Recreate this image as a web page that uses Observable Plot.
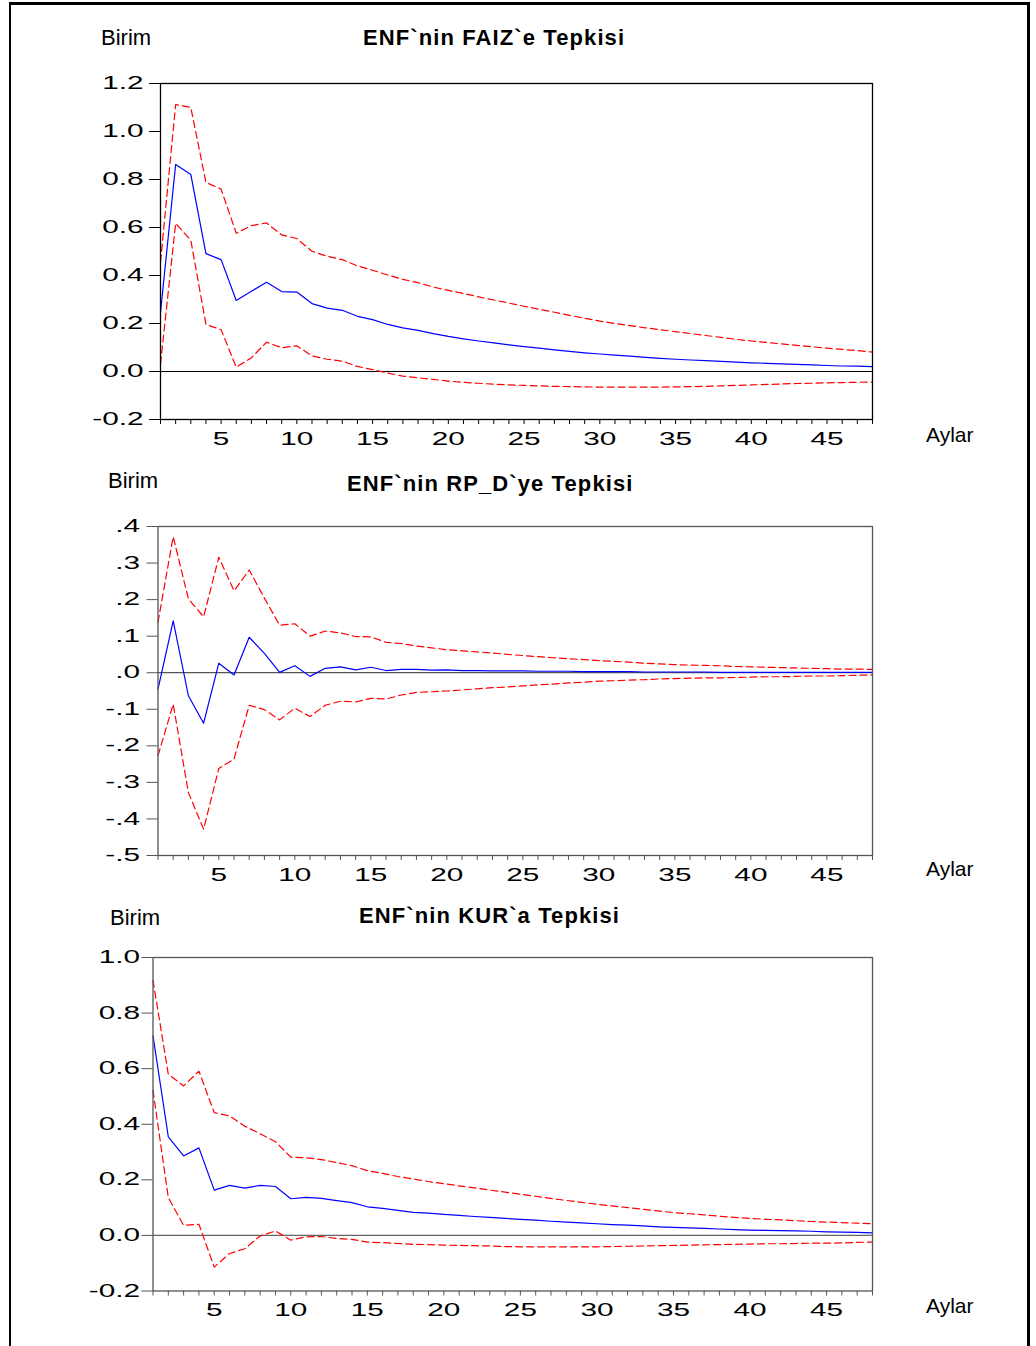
<!DOCTYPE html>
<html><head><meta charset="utf-8">
<script src="https://cdn.jsdelivr.net/npm/d3@7"></script>
<script src="https://cdn.jsdelivr.net/npm/@observablehq/plot@0.6"></script>
<style>
body{margin:0;background:#fff;overflow:hidden;}
#page{position:relative;width:1036px;height:1346px;overflow:hidden;background:#fff;font-family:"Liberation Sans",Arial,sans-serif;}
#border{position:absolute;left:9px;top:2px;width:1016px;height:1400px;border-left:2px solid #000;border-top:3px solid #000;border-right:3px solid #000;}
.lbl{position:absolute;font-size:22px;line-height:22px;white-space:nowrap;color:#000;}
.ttl{font-weight:bold;letter-spacing:1.1px;}
.ay{font-size:21px;}
.pw{position:absolute;left:0;}
</style></head><body><div id="page"><div id="border"></div></div>
<script>
const months = [1,2,3,4,5,6,7,8,9,10,11,12,13,14,15,16,17,18,19,20,21,22,23,24,25,26,27,28,29,30,31,32,33,34,35,36,37,38,39,40,41,42,43,44,45,46,47,48];

const faizMid = [0.245,0.863,0.821,0.491,0.466,0.296,0.334,0.372,0.333,0.331,0.283,0.264,0.255,0.230,0.216,0.196,0.182,0.171,0.158,0.146,0.136,0.127,0.119,0.111,0.104,0.097,0.090,0.084,0.078,0.073,0.068,0.064,0.059,0.055,0.051,0.048,0.045,0.042,0.039,0.036,0.034,0.032,0.030,0.028,0.025,0.023,0.022,0.020];
const faizUp = [0.456,1.112,1.100,0.788,0.760,0.576,0.608,0.619,0.569,0.554,0.501,0.480,0.466,0.440,0.422,0.402,0.384,0.370,0.352,0.338,0.325,0.311,0.298,0.285,0.272,0.259,0.247,0.234,0.222,0.210,0.200,0.191,0.182,0.174,0.166,0.158,0.150,0.142,0.134,0.127,0.121,0.115,0.109,0.103,0.097,0.092,0.087,0.081];
const faizLo = [0.032,0.617,0.547,0.196,0.174,0.018,0.057,0.122,0.099,0.107,0.065,0.051,0.043,0.021,0.008,-0.007,-0.019,-0.026,-0.033,-0.040,-0.045,-0.049,-0.053,-0.056,-0.058,-0.060,-0.062,-0.063,-0.064,-0.065,-0.065,-0.065,-0.065,-0.065,-0.064,-0.063,-0.062,-0.060,-0.058,-0.056,-0.054,-0.052,-0.050,-0.049,-0.047,-0.046,-0.045,-0.044];

const rpMid = [-0.045,0.142,-0.063,-0.138,0.026,-0.006,0.097,0.053,0.001,0.019,-0.010,0.012,0.016,0.008,0.015,0.006,0.009,0.009,0.007,0.008,0.006,0.006,0.005,0.005,0.005,0.004,0.004,0.004,0.003,0.003,0.003,0.003,0.002,0.002,0.002,0.002,0.002,0.001,0.001,0.001,0.001,0.001,0.001,0.001,0.001,0.001,0.001,0.001];
const rpUp = [0.138,0.372,0.202,0.153,0.316,0.224,0.281,0.204,0.130,0.134,0.100,0.114,0.109,0.099,0.098,0.083,0.080,0.073,0.068,0.063,0.060,0.057,0.054,0.050,0.047,0.044,0.041,0.038,0.036,0.033,0.031,0.029,0.026,0.024,0.022,0.021,0.020,0.019,0.017,0.016,0.015,0.014,0.013,0.012,0.011,0.010,0.010,0.009];
const rpLo = [-0.227,-0.086,-0.328,-0.428,-0.262,-0.236,-0.089,-0.101,-0.129,-0.097,-0.120,-0.089,-0.078,-0.080,-0.070,-0.072,-0.061,-0.054,-0.052,-0.050,-0.047,-0.044,-0.041,-0.039,-0.036,-0.033,-0.031,-0.028,-0.026,-0.023,-0.022,-0.020,-0.019,-0.017,-0.016,-0.015,-0.014,-0.014,-0.013,-0.012,-0.011,-0.011,-0.010,-0.009,-0.009,-0.008,-0.007,-0.006];

const kurMid = [0.718,0.355,0.286,0.315,0.163,0.180,0.170,0.180,0.176,0.132,0.137,0.133,0.125,0.118,0.103,0.097,0.090,0.083,0.080,0.076,0.072,0.068,0.065,0.061,0.058,0.055,0.051,0.048,0.045,0.042,0.039,0.037,0.034,0.031,0.029,0.027,0.025,0.023,0.021,0.019,0.018,0.017,0.016,0.015,0.013,0.012,0.011,0.009];
const kurUp = [0.918,0.580,0.538,0.591,0.442,0.430,0.393,0.366,0.337,0.282,0.279,0.273,0.262,0.251,0.233,0.223,0.212,0.203,0.194,0.186,0.178,0.171,0.163,0.156,0.148,0.141,0.133,0.126,0.119,0.112,0.106,0.100,0.094,0.088,0.082,0.078,0.074,0.069,0.065,0.061,0.058,0.056,0.053,0.050,0.048,0.046,0.044,0.042];
const kurLo = [0.522,0.136,0.036,0.040,-0.114,-0.065,-0.048,-0.002,0.016,-0.017,-0.005,-0.004,-0.011,-0.014,-0.024,-0.026,-0.029,-0.032,-0.033,-0.035,-0.036,-0.037,-0.038,-0.040,-0.041,-0.041,-0.041,-0.041,-0.041,-0.041,-0.040,-0.039,-0.038,-0.037,-0.036,-0.035,-0.034,-0.033,-0.032,-0.031,-0.030,-0.030,-0.029,-0.028,-0.028,-0.027,-0.025,-0.024];

const faizTicks = [-0.2,0,0.2,0.4,0.6,0.8,1.0,1.2];
const rpTicks = [-0.5,-0.4,-0.3,-0.2,-0.1,0,0.1,0.2,0.3,0.4];
const kurTicks = [-0.2,0,0.2,0.4,0.6,0.8,1.0];
const xLabelTicks = [5,10,15,20,25,30,35,40,45];

const titles = ["ENF`nin FAIZ`e Tepkisi","ENF`nin RP_D`ye Tepkisi","ENF`nin KUR`a Tepkisi"];
const unitLabel = "Birim";
const xLabel = "Aylar";

const fmt1 = d => d.toFixed(1);
const fmtDot = d => (d < -1e-9 ? "-" : "") + "." + Math.round(Math.abs(d) * 10);

const panels = [
  {title: titles[0], mid: faizMid, up: faizUp, lo: faizLo, dom: [-0.2,1.2], ticks: faizTicks, fmt: fmt1,
   left: 160, top: 83, bottom: 419, frame: "#000", zero: "#000", tpad: 6,
   titleX: 363, titleBase: 46, birimX: 101, birimBase: 46, aylarBase: 442},
  {title: titles[1], mid: rpMid, up: rpUp, lo: rpLo, dom: [-0.5,0.4], ticks: rpTicks, fmt: fmtDot,
   left: 157.5, top: 525.5, bottom: 854.5, frame: "#555", zero: "#555", tpad: 7,
   titleX: 347, titleBase: 492, birimX: 108, birimBase: 489, aylarBase: 876},
  {title: titles[2], mid: kurMid, up: kurUp, lo: kurLo, dom: [-0.2,1.0], ticks: kurTicks, fmt: fmt1,
   left: 152.5, top: 956.5, bottom: 1290, frame: "#555", zero: "#666", tpad: 2,
   titleX: 359, titleBase: 924, birimX: 110, birimBase: 926, aylarBase: 1313}
];

const page = document.getElementById("page");
const W = 1036, RIGHT = 872, MT = 20, MB = 40;

function addLabel(text, x, base, cls, size) {
  const d = document.createElement("div");
  d.className = "lbl " + cls;
  d.textContent = text;
  d.style.left = x + "px";
  d.style.top = (base - 0.845 * size) + "px";
  page.appendChild(d);
}

for (const p of panels) {
  const rows = arr => months.map((m, i) => ({m, v: arr[i]}));
  const plot = Plot.plot({
    width: W,
    height: (p.bottom - p.top) + MT + MB,
    marginLeft: p.left, marginRight: W - RIGHT, marginTop: MT, marginBottom: MB,
    style: {fontSize: "17.5px", fontFamily: "'Liberation Sans', Arial, sans-serif", color: "#000", background: "transparent", overflow: "visible"},
    x: {domain: [1, 48]},
    y: {domain: p.dom},
    marks: [
      Plot.ruleY([0], {stroke: p.zero, strokeWidth: 1.2}),
      Plot.line(rows(p.up), {x: "m", y: "v", stroke: "#ff0000", strokeWidth: 1.2, strokeDasharray: "7,4"}),
      Plot.line(rows(p.lo), {x: "m", y: "v", stroke: "#ff0000", strokeWidth: 1.2, strokeDasharray: "7,4"}),
      Plot.line(rows(p.mid), {x: "m", y: "v", stroke: "#0000ff", strokeWidth: 1.2}),
      Plot.frame({stroke: p.frame, strokeWidth: 1.3}),
      Plot.axisY({ticks: p.ticks, tickFormat: p.fmt, tickSize: 11, tickPadding: p.tpad, stroke: p.frame, fill: "#000", label: null}),
      Plot.axisX({ticks: months, tickFormat: () => "", tickSize: 5, stroke: p.frame, label: null}),
      Plot.axisX({ticks: xLabelTicks, tickFormat: d => String(d), tickSize: 0, tickPadding: 13, fill: "#000", label: null})
    ]
  });
  plot.querySelectorAll('g[aria-label$="tick label"] text').forEach(t => {
    t.setAttribute("transform", (t.getAttribute("transform") || "") + " scale(1.7,1)");
  });
  const wrap = document.createElement("div");
  wrap.className = "pw";
  wrap.style.top = (p.top - MT) + "px";
  wrap.appendChild(plot);
  page.appendChild(wrap);

  addLabel(unitLabel, p.birimX, p.birimBase, "", 22);
  addLabel(p.title, p.titleX, p.titleBase, "ttl", 22);
  addLabel(xLabel, 926, p.aylarBase, "ay", 21);
}
</script>
</body></html>
